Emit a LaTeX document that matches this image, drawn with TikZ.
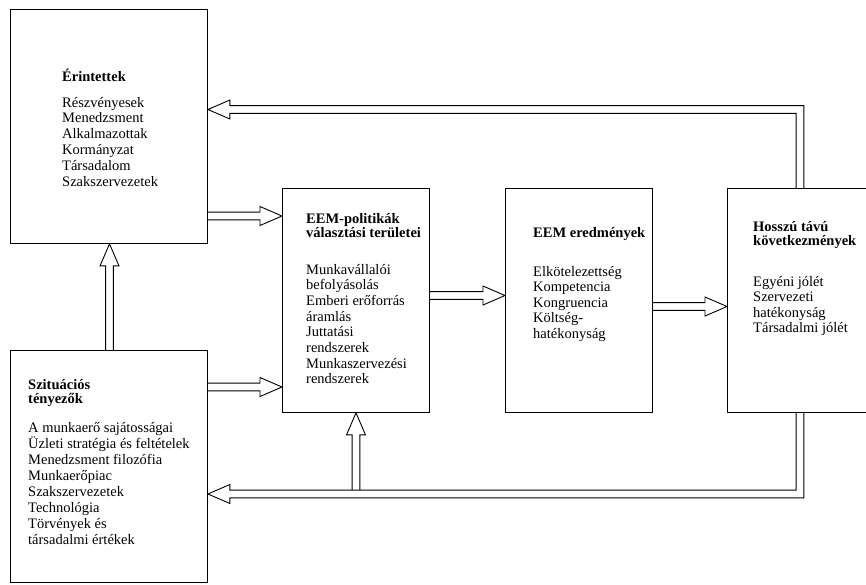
\documentclass[tikz,border=0pt]{standalone}
\usepackage{fontspec}
\setmainfont{Liberation Serif}
\usetikzlibrary{calc}
% hollow straight arrows: #1 = start point, #2 = tip
\newcommand\arrR[2]{\draw[ln] ($(#1)+(0,-3.9)$) -- ($(#2)+(-22,-3.9)$) -- ($(#2)+(-22,-9.5)$) -- (#2) -- ($(#2)+(-22,9.5)$) -- ($(#2)+(-22,3.9)$) -- ($(#1)+(0,3.9)$);}
\newcommand\arrU[2]{\draw[ln] ($(#1)+(-3.9,0)$) -- ($(#2)+(-3.9,22)$) -- ($(#2)+(-9.5,22)$) -- (#2) -- ($(#2)+(9.5,22)$) -- ($(#2)+(3.9,22)$) -- ($(#1)+(3.9,0)$);}
\begin{document}
\begin{tikzpicture}[x=1pt,y=-1pt,
  box/.style={draw, line width=0.9pt, rectangle, inner sep=0pt, anchor=north west},
  ttl/.style={anchor=base west, inner sep=0pt, font=\fontsize{14.5}{15}\selectfont\bfseries},
  txt/.style={anchor=base west, inner sep=0pt, font=\fontsize{14.5}{16}\selectfont},
  ln/.style={draw, line width=0.9pt, line join=miter}]
\useasboundingbox (0,0) rectangle (866,584);

% boxes
\node[box, minimum width=197pt, minimum height=234pt] (er) at (10,9) {};
\node[box, minimum width=197pt, minimum height=232pt] (sz) at (10,350) {};
\node[box, minimum width=147pt, minimum height=224pt] (pol) at (282,188) {};
\node[box, minimum width=147pt, minimum height=224pt] (ered) at (505,188) {};
\node[box, minimum width=150pt, minimum height=224pt] (hossz) at (727,188) {};

% helper coordinates
\coordinate (yA) at (0,216);
\coordinate (yB) at (0,387);
\coordinate (yC) at (0,295.5);
\coordinate (yD) at (0,306.5);
\coordinate (fx) at (800,0);
\coordinate (fyT) at (0,109.5);
\coordinate (fyB) at (0,494);
\coordinate (bx) at (356,0);
\coordinate (vx) at (109.5,0);

% straight arrows
\arrR{er.east |- yA}{pol.west |- yA}
\arrR{sz.east |- yB}{pol.west |- yB}
\arrR{pol.east |- yC}{ered.west |- yC}
\arrR{ered.east |- yD}{hossz.west |- yD}
\arrU{sz.north -| vx}{er.south -| vx}
% branch from the bottom feedback up into pol
\arrU{$(bx |- fyB)+(0,-3.9)$}{pol.south -| bx}

% feedback top: hossz -> er
\draw[ln] ($(hossz.north -| fx)+(3.9,0)$) -- ($(fx |- fyT)+(3.9,-3.9)$)
  -- ($(er.east |- fyT)+(22,-3.9)$) -- ($(er.east |- fyT)+(22,-9.5)$)
  -- (er.east |- fyT)
  -- ($(er.east |- fyT)+(22,9.5)$) -- ($(er.east |- fyT)+(22,3.9)$)
  -- ($(fx |- fyT)+(-3.9,3.9)$) -- ($(hossz.north -| fx)+(-3.9,0)$);
% feedback bottom: hossz -> sz
\draw[ln] ($(hossz.south -| fx)+(3.9,0)$) -- ($(fx |- fyB)+(3.9,3.9)$)
  -- ($(sz.east |- fyB)+(22,3.9)$) -- ($(sz.east |- fyB)+(22,9.5)$)
  -- (sz.east |- fyB)
  -- ($(sz.east |- fyB)+(22,-9.5)$) -- ($(sz.east |- fyB)+(22,-3.9)$)
  -- ($(fx |- fyB)+(-3.9,-3.9)$) -- ($(hossz.south -| fx)+(-3.9,0)$);

% texts
\node[ttl] (ert) at (62,81) {Érintettek};
\foreach \t [count=\i] in {Részvényesek,Menedzsment,Alkalmazottak,Kormányzat,Társadalom,Szakszervezetek}
  \node[txt] (er\i) at (62,{107+15.8*(\i-1)}) {\t};

\node[ttl] (szt1) at (28,389) {Szituációs};
\node[ttl] (szt2) at (28,403) {tényezők};
\foreach \t [count=\i] in {A munkaerő sajátosságai,Üzleti stratégia és feltételek,Menedzsment filozófia,Munkaerőpiac,Szakszervezetek,Technológia,Törvények és,társadalmi értékek}
  \node[txt] (sz\i) at (28,{432+16*(\i-1)}) {\t};

\node[ttl] (polt1) at (306,223) {EEM-politikák};
\node[ttl] (polt2) at (306,237) {választási területei};
\foreach \t [count=\i] in {Munkavállalói,befolyásolás,Emberi erőforrás,áramlás,Juttatási,rendszerek,Munkaszervezési,rendszerek}
  \node[txt] (pol\i) at (306,{274+15.7*(\i-1)}) {\t};

\node[ttl] (eredt) at (533,237) {EEM eredmények};
\foreach \t [count=\i] in {Elkötelezettség,Kompetencia,Kongruencia,Költség-,hatékonyság}
  \node[txt] (ered\i) at (533,{276+15.5*(\i-1)}) {\t};

\node[ttl] (hosszt1) at (753,231) {Hosszú távú};
\node[ttl] (hosszt2) at (753,245) {következmények};
\foreach \t [count=\i] in {Egyéni jólét,Szervezeti,hatékonyság,Társadalmi jólét}
  \node[txt] (hossz\i) at (753,{286+15.5*(\i-1)}) {\t};
\end{tikzpicture}
\end{document}
